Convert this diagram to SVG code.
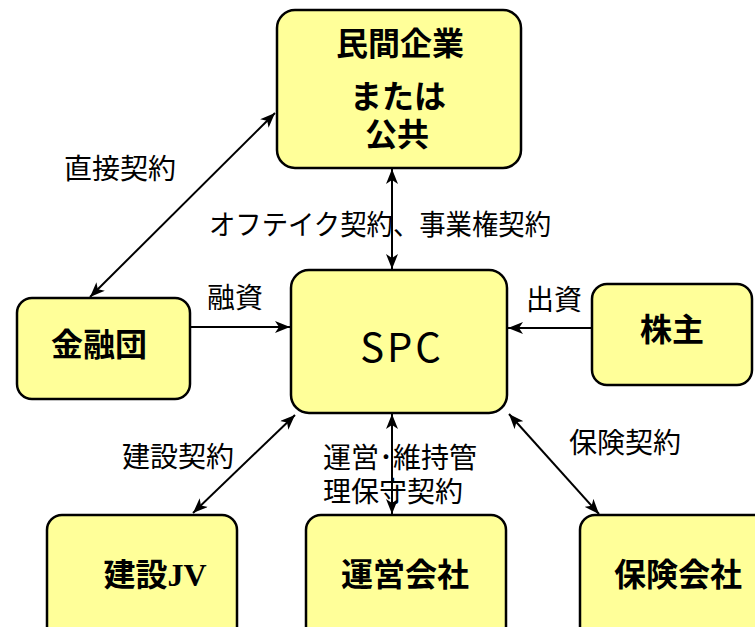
<svg xmlns="http://www.w3.org/2000/svg" width="755" height="627" viewBox="0 0 755 627">
<style>
.box{fill:#FFFF99;stroke:#000;stroke-width:2.5}
.nl{font-family:"Noto Sans CJK JP","Noto Sans",sans-serif;font-weight:700;font-size:32px;fill:#000;text-anchor:middle}
.lb{font-family:"Noto Sans CJK JP","Noto Sans",sans-serif;font-size:28px;fill:#000}
.ln{stroke:#000;stroke-width:2;fill:none}
</style>
<defs>
<marker id="ah" markerUnits="userSpaceOnUse" markerWidth="16" markerHeight="12" viewBox="0 0 16 12" refX="15" refY="6" orient="auto-start-reverse">
<path d="M0,0 L15,6 L0,12 L4,6 z" fill="#000"/>
</marker>
</defs>
<g id="connectors">
<line class="ln" x1="275" y1="113" x2="90" y2="297" marker-start="url(#ah)" marker-end="url(#ah)"/>
<line class="ln" x1="392" y1="169" x2="392" y2="269" marker-start="url(#ah)" marker-end="url(#ah)"/>
<line class="ln" x1="190" y1="327" x2="290" y2="327" marker-end="url(#ah)"/>
<line class="ln" x1="592" y1="328" x2="508" y2="328" marker-end="url(#ah)"/>
<line class="ln" x1="295" y1="415" x2="193" y2="513" marker-start="url(#ah)" marker-end="url(#ah)"/>
<line class="ln" x1="392" y1="414" x2="392" y2="514" marker-start="url(#ah)" marker-end="url(#ah)"/>
<line class="ln" x1="509" y1="414" x2="599" y2="514" marker-start="url(#ah)" marker-end="url(#ah)"/>
</g>
<g id="labels">
<text class="lb" x="64" y="179">直接契約</text>
<text class="lb" x="209" y="235" font-size="27" textLength="342" lengthAdjust="spacingAndGlyphs">オフテイク契約、事業権契約</text>
<text class="lb" x="207" y="308">融資</text>
<text class="lb" x="526" y="310">出資</text>
<text class="lb" x="122" y="467">建設契約</text>
<text class="lb" x="323" y="468">運営･維持管</text>
<text class="lb" x="323" y="502">理保守契約</text>
<text class="lb" x="569" y="453">保険契約</text>
</g>
<g id="node-top">
<rect class="box" x="277" y="10" width="244" height="158" rx="18"/>
<text class="nl" x="400" y="55">民間企業</text>
<text class="nl" x="398" y="108">または</text>
<text class="nl" x="397" y="146">公共</text>
</g>
<g id="node-spc">
<rect class="box" x="291" y="270" width="216" height="143" rx="18"/>
<text x="399" y="362" text-anchor="middle" font-family="Noto Sans CJK JP, Noto Sans, sans-serif" font-size="40" fill="#000" letter-spacing="-3">S P C</text>
</g>
<g id="node-bank">
<rect class="box" x="17" y="298" width="173" height="101" rx="15"/>
<text class="nl" x="99" y="356">金融団</text>
</g>
<g id="node-shareholder">
<rect class="box" x="592" y="284" width="160" height="101" rx="15"/>
<text class="nl" x="672" y="341">株主</text>
</g>
<g id="node-construction">
<rect class="box" x="47" y="515" width="190" height="130" rx="15"/>
<text class="nl" x="155" y="586">建設<tspan font-family="Liberation Serif, serif">JV</tspan></text>
</g>
<g id="node-operation">
<rect class="box" x="306" y="515" width="200" height="130" rx="15"/>
<text class="nl" x="405" y="586">運営会社</text>
</g>
<g id="node-insurance">
<rect class="box" x="580" y="515" width="190" height="130" rx="15"/>
<text class="nl" x="678" y="586">保険会社</text>
</g>
</svg>
